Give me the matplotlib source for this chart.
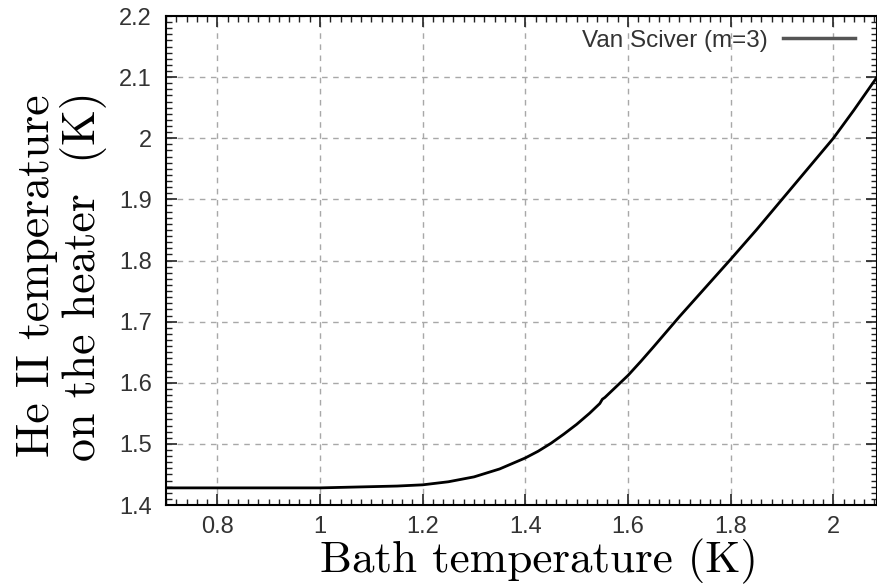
import numpy as np
import matplotlib.pyplot as plt
from matplotlib.ticker import MultipleLocator

# values
bath_T = [0.70, 0.80, 0.90, 1.00, 1.05, 1.10, 1.15, 1.20, 1.25, 1.30, 1.35,
          1.40, 1.425, 1.45, 1.475, 1.50, 1.525, 1.545, 1.55, 1.555, 1.575,
          1.60, 1.625, 1.65, 1.70, 1.75, 1.80, 1.85, 1.90, 1.95, 2.00, 2.04,
          2.085]
heater_T = [1.428, 1.428, 1.428, 1.428, 1.429, 1.430, 1.431, 1.433, 1.438,
            1.446, 1.459, 1.477, 1.488, 1.501, 1.516, 1.532, 1.550, 1.566,
            1.573, 1.576, 1.592, 1.612, 1.635, 1.659, 1.708, 1.755, 1.802,
            1.850, 1.900, 1.950, 2.000, 2.046, 2.100]

plt.rcParams['font.family'] = ['Liberation Sans', 'DejaVu Sans']

fig = plt.figure(figsize=(8.77, 5.85), dpi=100)
ax = fig.add_axes([166 / 877, 80 / 585, 711 / 877, 489 / 585])

ax.plot(bath_T, heater_T, color='black', lw=2, label='Van Sciver (m=3)')

ax.set_xlim(0.7, 2.085)
ax.set_ylim(1.4, 2.2)
ax.xaxis.set_minor_locator(MultipleLocator(0.02))
ax.yaxis.set_minor_locator(MultipleLocator(0.01))
ax.set_xticks([0.8, 1.0, 1.2, 1.4, 1.6, 1.8, 2.0])
ax.set_xticklabels(['0.8', '1', '1.2', '1.4', '1.6', '1.8', '2'])
ax.set_yticks([1.4, 1.5, 1.6, 1.7, 1.8, 1.9, 2.0, 2.1, 2.2])
ax.set_yticklabels(['1.4', '1.5', '1.6', '1.7', '1.8', '1.9', '2', '2.1', '2.2'])

ax.tick_params(which='both', direction='in', top=True, right=True,
               labelsize=17, colors='#222222', labelcolor='#333333')
ax.tick_params(which='major', length=8, width=1.2, pad=10)
ax.tick_params(axis='x', which='major', pad=8)
ax.tick_params(which='minor', length=4, width=1)
for s in ax.spines.values():
    s.set_linewidth(1.5)

ax.grid(True, which='major', color='#a8a8a8', linestyle=(0, (4, 4)), lw=1)

ax.set_xlabel('Bath temperature (K)', family='cmr10', fontsize=32.5)
ax.xaxis.set_label_coords(0.525, -0.068)
ax.set_ylabel('He II temperature\non the heater  (K)', family='cmr10',
              fontsize=33, linespacing=1.05)
ax.yaxis.set_label_coords(-0.083, 0.468)

leg = ax.legend(loc='upper right', bbox_to_anchor=(1.0, 1.017), frameon=False,
                markerfirst=False, fontsize=17.5, handlelength=2.95,
                borderaxespad=0.5, handletextpad=0.65, labelcolor='#333333')
leg.legend_handles[0].set_color('#555555')
leg.legend_handles[0].set_linewidth(2.5)

fig.savefig('out.png', dpi=100)
